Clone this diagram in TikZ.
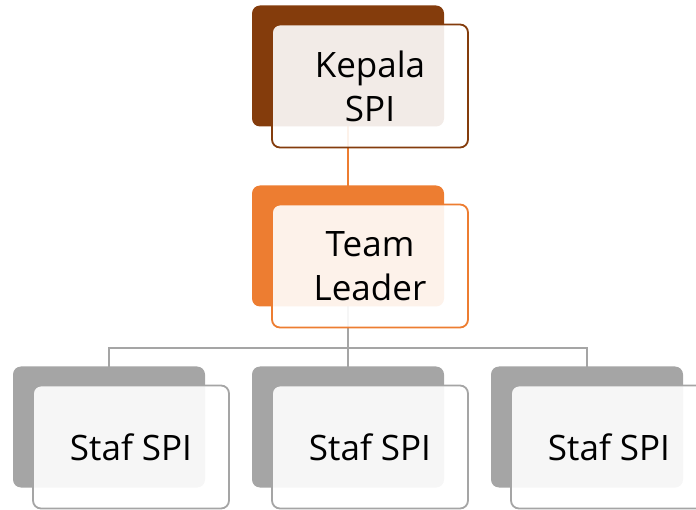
\documentclass[tikz,border=0pt]{standalone}
\usepackage{fontspec}
\setmainfont{Open Sans}
\usetikzlibrary{positioning,backgrounds}
\definecolor{spibrown}{HTML}{843C0C}
\definecolor{spiorange}{HTML}{ED7D31}
\definecolor{spigrey}{HTML}{A5A5A5}
\tikzset{
  backbox/.style={fill=#1,rounded corners=8pt,minimum width=192pt,minimum height=121pt,inner sep=0pt},
  frontbox/.style={draw=#1,line width=1.8pt,fill=white,fill opacity=0.9,text opacity=1,%see-through front card
        rounded corners=8pt,minimum width=196pt,minimum height=123pt,inner sep=0pt,
        align=center,font=\fontsize{35}{44}\selectfont,xshift=22pt,yshift=-20pt},
  link/.style={draw=#1,line width=1.8pt}
}
\begin{document}
\begin{tikzpicture}[x=1pt,y=-1pt]
\useasboundingbox (0,0) rectangle (696,510);
\clip (0,0) rectangle (696,510);
\node[backbox=spibrown] (kepalaback) at (348,66) {};
\node[frontbox=spibrown] (kepala) at (kepalaback) {Kepala\\SPI};
\node[backbox=spiorange] (leaderback) at (348,246) {};
\node[frontbox=spiorange] (leader) at (leaderback) {Team\\Leader};
\foreach \i/\x in {a/109,b/348,c/587}{
  \node[backbox=spigrey] (staf\i back) at (\x,427) {};
  \node[frontbox=spigrey] (staf\i) at (staf\i back) {Staf SPI};
}
\coordinate (bus) at (348,348);
\begin{pgfonlayer}{background}
\path[link=spiorange] (kepalaback.center) -- (leaderback.center);
\foreach \i in {a,b,c}
  \path[link=spigrey] (leaderback.center) -- (bus) -| (staf\i back.center);
\end{pgfonlayer}
\end{tikzpicture}
\end{document}
